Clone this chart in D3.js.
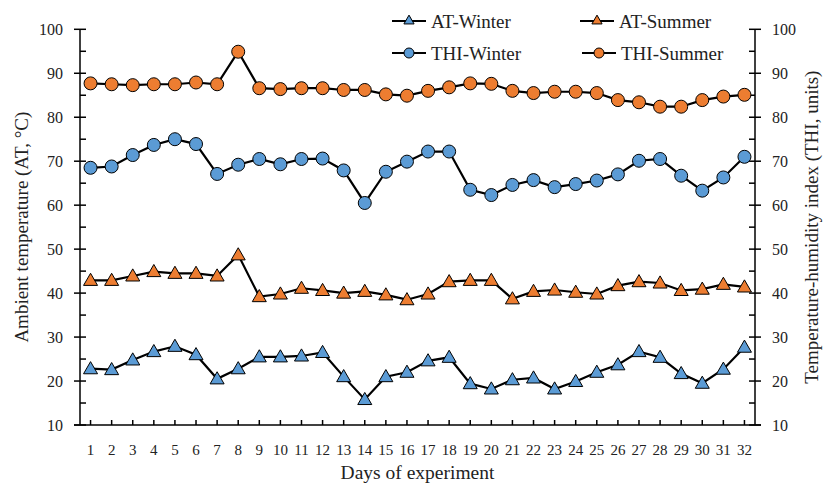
<!DOCTYPE html>
<html><head><meta charset="utf-8">
<script src="https://cdn.jsdelivr.net/npm/d3@7"></script>
<style>body{margin:0;background:#fff}svg{display:block}text{font-family:"Liberation Serif","Times New Roman",serif;fill:#222}</style>
</head><body><svg id="c" width="824" height="486"></svg>
<script>
const days = d3.range(1, 33).map(String);
const atWinter = [22.8,22.6,24.8,26.7,27.9,26.0,20.5,22.8,25.5,25.5,25.7,26.5,21.0,15.8,21.0,22.0,24.6,25.4,19.4,18.2,20.3,20.7,18.2,19.9,22.0,23.7,26.7,25.4,21.7,19.5,22.7,27.7];
const atSummer = [42.9,42.9,43.9,44.9,44.5,44.5,43.9,48.7,39.2,39.8,41.1,40.6,40.0,40.4,39.6,38.5,39.8,42.6,42.9,42.9,38.7,40.4,40.7,40.2,39.8,41.7,42.6,42.3,40.6,40.9,42.0,41.4];
const thiWinter = [68.5,68.8,71.4,73.7,75.0,73.9,67.1,69.2,70.5,69.3,70.5,70.6,67.9,60.5,67.6,69.9,72.2,72.2,63.5,62.3,64.6,65.7,64.1,64.8,65.6,67.0,70.1,70.5,66.7,63.3,66.3,71.0];
const thiSummer = [87.7,87.5,87.3,87.5,87.5,87.9,87.5,94.9,86.6,86.4,86.6,86.6,86.2,86.2,85.2,84.9,86.0,86.8,87.7,87.6,86.0,85.5,85.8,85.8,85.5,83.9,83.4,82.4,82.4,83.9,84.7,85.1];
const yTicks = [10,20,30,40,50,60,70,80,90,100];
const series = [
  {name:"AT-Winter", values:atWinter, color:"#5b9bd5", shape:"tri"},
  {name:"AT-Summer", values:atSummer, color:"#ed7d31", shape:"tri"},
  {name:"THI-Winter", values:thiWinter, color:"#5b9bd5", shape:"circ"},
  {name:"THI-Summer", values:thiSummer, color:"#ed7d31", shape:"circ"}
];

const svg = d3.select("#c");
const L = 80, R = 755, T = 29.3, B = 425;
const x = d3.scaleBand().domain(days).range([L, R]);
const y = d3.scaleLinear().domain([10, 100]).range([B, T]);
const minor = d3.range(15, 100, 10);

// left axis
const gl = svg.append("g");
gl.append("line").attr("x1",L).attr("x2",L).attr("y1",T).attr("y2",B).attr("stroke","#000").attr("stroke-width",1.5);
gl.selectAll(".mj").data(yTicks).join("line").attr("x1",L-6).attr("x2",L+6).attr("y1",d=>y(d)).attr("y2",d=>y(d)).attr("stroke","#000").attr("stroke-width",1.5);
gl.selectAll(".mn").data(minor).join("line").attr("x1",L).attr("x2",L+6).attr("y1",d=>y(d)).attr("y2",d=>y(d)).attr("stroke","#000").attr("stroke-width",1.5);
gl.selectAll("text").data(yTicks).join("text").attr("x",L-17).attr("y",d=>y(d)).attr("dy","0.35em").attr("text-anchor","end").attr("font-size",16).text(d=>d);

// right axis
const gr = svg.append("g");
gr.append("line").attr("x1",R).attr("x2",R).attr("y1",T).attr("y2",B).attr("stroke","#000").attr("stroke-width",1.5);
gr.selectAll(".mj").data(yTicks).join("line").attr("x1",R-6).attr("x2",R+6).attr("y1",d=>y(d)).attr("y2",d=>y(d)).attr("stroke","#000").attr("stroke-width",1.5);
gr.selectAll(".mn").data(minor).join("line").attr("x1",R-6).attr("x2",R).attr("y1",d=>y(d)).attr("y2",d=>y(d)).attr("stroke","#000").attr("stroke-width",1.5);
gr.selectAll("text").data(yTicks).join("text").attr("x",R+17).attr("y",d=>y(d)).attr("dy","0.35em").attr("text-anchor","start").attr("font-size",16).text(d=>d);

// bottom axis
const gb = svg.append("g");
gb.append("line").attr("x1",L-6).attr("x2",R+6).attr("y1",B).attr("y2",B).attr("stroke","#000").attr("stroke-width",1.5);
gb.selectAll(".t").data(days).join("line").attr("x1",d=>x(d)+x.bandwidth()/2).attr("x2",d=>x(d)+x.bandwidth()/2).attr("y1",B).attr("y2",B-5).attr("stroke","#000").attr("stroke-width",1.5);
gb.selectAll("text").data(days).join("text").attr("x",d=>x(d)+x.bandwidth()/2).attr("y",B+30).attr("text-anchor","middle").attr("font-size",15).text(d=>d);

// axis titles
svg.append("text").attr("x",(L+R)/2).attr("y",479).attr("text-anchor","middle").attr("font-size",19.5).text("Days of experiment");
svg.append("text").attr("transform",`translate(28,${(T+B)/2}) rotate(-90)`).attr("text-anchor","middle").attr("font-size",19).text("Ambient temperature (AT, °C)");
svg.append("text").attr("transform",`translate(818,${(T+B)/2}) rotate(-90)`).attr("text-anchor","middle").attr("font-size",19).text("Temperature-humidity index (THI, units)");

const cx = i => x(days[i]) + x.bandwidth()/2;
const tri = d3.symbol().type(d3.symbolTriangle).size(85);
const line = d3.line().x((d,i)=>cx(i)).y(d=>y(d));

function marker(g, s, px, py){
  if (s.shape === "tri") {
    g.append("path").attr("d", tri()).attr("transform",`translate(${px},${py+1})`).attr("fill",s.color).attr("stroke","#000").attr("stroke-width",1);
  } else {
    g.append("circle").attr("cx",px).attr("cy",py).attr("r",6.5).attr("fill",s.color).attr("stroke","#000").attr("stroke-width",1);
  }
}

series.forEach(s => {
  const g = svg.append("g");
  g.append("path").datum(s.values).attr("d",line).attr("fill","none").attr("stroke","#000").attr("stroke-width",2.2);
  s.values.forEach((v,i)=>marker(g, s, cx(i), y(v)));
});

// legend
const leg = [{s:series[0],lx:392,ly:21},{s:series[1],lx:580,ly:21},{s:series[2],lx:392,ly:53},{s:series[3],lx:582,ly:53}];
leg.forEach(o=>{
  const g = svg.append("g");
  g.append("line").attr("x1",o.lx).attr("x2",o.lx+34).attr("y1",o.ly).attr("y2",o.ly).attr("stroke","#000").attr("stroke-width",2.2);
  if (o.s.shape==="tri") g.append("path").attr("d",d3.symbol().type(d3.symbolTriangle).size(45)()).attr("transform",`translate(${o.lx+17},${o.ly})`).attr("fill",o.s.color).attr("stroke","#000").attr("stroke-width",1);
  else g.append("circle").attr("cx",o.lx+17).attr("cy",o.ly).attr("r",5).attr("fill",o.s.color).attr("stroke","#000").attr("stroke-width",1);
  g.append("text").attr("x",o.lx+39).attr("y",o.ly).attr("dy","0.35em").attr("font-size",19).text(o.s.name);
});
</script></body></html>
